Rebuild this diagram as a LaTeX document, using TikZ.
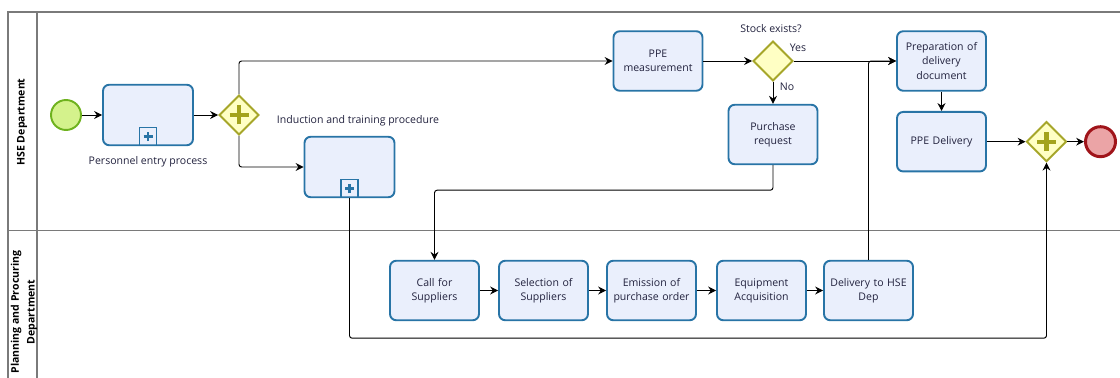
\documentclass[tikz,border=0pt]{standalone}
\usepackage{fontspec}
\setmainfont{Open Sans}
\usetikzlibrary{arrows.meta, shapes.geometric}
\definecolor{taskblue}{HTML}{2874A6}
\definecolor{taskfill}{HTML}{EAEFFC}
\definecolor{gwline}{HTML}{A6A62A}
\definecolor{gwfill}{HTML}{FFFFC4}
\definecolor{gwplus}{HTML}{A3A31C}
\definecolor{startline}{HTML}{6EB21E}
\definecolor{startfill}{HTML}{D4F28C}
\definecolor{endline}{HTML}{A0141A}
\definecolor{endfill}{HTML}{EBA4A6}
\definecolor{poolgray}{HTML}{7A7A7A}
\definecolor{txtnavy}{HTML}{22223E}
\tikzset{
  taskbox/.style={rectangle, rounded corners=3.5pt, draw=taskblue, fill=taskfill,
                  line width=1.1pt, minimum width=1.78cm, minimum height=1.19cm,
                  text width=1.7cm, align=center, inner sep=0pt,
                  font=\fontsize{6}{8}\selectfont, text=txtnavy},
  subbox/.style={taskbox, minimum width=1.8cm, minimum height=1.21cm,
                 path picture={
                   \draw[sharp corners, taskblue, line width=0.8pt, fill=taskfill]
                     ([xshift=-0.17cm]path picture bounding box.south) rectangle
                     ([xshift=0.17cm, yshift=0.35cm]path picture bounding box.south);
                   \draw[sharp corners, taskblue, line width=1.5pt]
                     ([xshift=-0.09cm, yshift=0.17cm]path picture bounding box.south) --
                     ([xshift=0.09cm, yshift=0.17cm]path picture bounding box.south)
                     ([yshift=0.08cm]path picture bounding box.south) --
                     ([yshift=0.26cm]path picture bounding box.south);
                 }},
  gw/.style={diamond, aspect=1, draw=gwline, fill=gwfill, line width=1.1pt,
             minimum width=0.8cm, minimum height=0.8cm, inner sep=0pt},
  pgw/.style={gw, path picture={
                \draw[gwplus, line width=2.5pt]
                  ([xshift=-0.19cm]path picture bounding box.center) --
                  ([xshift=0.19cm]path picture bounding box.center)
                  ([yshift=-0.19cm]path picture bounding box.center) --
                  ([yshift=0.19cm]path picture bounding box.center);
              }},
  startev/.style={circle, draw=startline, fill=startfill, line width=1.1pt,
                  minimum size=0.6cm, inner sep=0pt},
  endev/.style={circle, draw=endline, fill=endfill, line width=1.7pt,
                minimum size=0.6cm, inner sep=0pt},
  arr/.style={-{Stealth[length=4.5pt, width=4.5pt, inset=1.5pt]}, line width=0.55pt,
              black, rounded corners=1.5pt},
  lbl/.style={font=\fontsize{6}{8}\selectfont, text=txtnavy, inner sep=0pt},
  lanelbl/.style={rotate=90, font=\fontsize{6}{9}\selectfont\bfseries, align=center,
                  inner sep=0pt},
}

\begin{document}
\begin{tikzpicture}[x=0.02cm, y=-0.02cm]
  \useasboundingbox (0,0) rectangle (1120,378);

  % pool and lanes
  \draw[poolgray, line width=0.6pt] (1120,12) -- (8,12) -- (8,378);
  \draw[poolgray, line width=0.6pt] (37,12) -- (37,378);
  \draw[poolgray, line width=0.6pt] (8,230.5) -- (1120,230.5);
  \node[lanelbl] (hse) at (22,122) {HSE Department};
  \node[lanelbl] (ppd) at (24,312) {Planning and Procuring\\Department};

  % HSE lane
  \node[startev] (start) at (66,115) {};
  \node[subbox] (pe) at (148,115) {};
  \node[lbl] (pelbl) at (148,162) {Personnel entry process};
  \node[pgw] (g1) at (239,115) {};
  \node[subbox] (it) at (349.5,167) {};
  \node[lbl] (itlbl) at (358,121) {Induction and training procedure};
  \node[taskbox] (pm) at (658,61) {PPE\\measurement};
  \node[gw] (g2) at (773,61) {};
  \node[lbl] (g2lbl) at (771,29) {Stock exists?};
  \node[lbl] (yes) at (798,48) {Yes};
  \node[lbl] (no) at (787,87) {No};
  \node[taskbox] (pr) at (773,134.5) {Purchase\\request};
  \node[taskbox] (prep) at (941.5,61) {Preparation of\\delivery\\document};
  \node[taskbox] (pd) at (941.5,141.7) {PPE Delivery};
  \node[pgw] (g3) at (1046.5,141.7) {};
  \node[endev] (finish) at (1100.5,141.7) {};

  % Planning and Procuring lane
  \node[taskbox] (call) at (434.5,290.5) {Call for\\Suppliers};
  \node[taskbox] (sel) at (543.5,290.5) {Selection of\\Suppliers};
  \node[taskbox] (em) at (651.5,290.5) {Emission of\\purchase order};
  \node[taskbox] (eq) at (761.5,290.5) {Equipment\\Acquisition};
  \node[taskbox] (dl) at (868.5,290.5) {Delivery to HSE\\Dep};

  % flows
  \draw[arr] (start) -- (pe);
  \draw[arr] (pe) -- (g1);
  \draw[arr] (g1.north) |- (pm.west);
  \draw[arr] (g1.south) |- (it.west);
  \draw[arr] (pm) -- (g2);
  \draw[arr] (g2.east) -- (prep.west);
  \draw[arr] (g2.south) -- (pr.north);
  \draw[arr] (pr.south) -- ++(0,25) -| (call.north);
  \draw[arr] (call) -- (sel);
  \draw[arr] (sel) -- (em);
  \draw[arr] (em) -- (eq);
  \draw[arr] (eq) -- (dl);
  \draw[arr] (dl.north) |- (prep.west);
  \draw[arr] (prep) -- (pd);
  \draw[arr] (pd) -- (g3);
  \draw[arr] (g3) -- (finish);
  \draw[arr] (it.south) -- ++(0,140) -| (g3.south);
\end{tikzpicture}
\end{document}
